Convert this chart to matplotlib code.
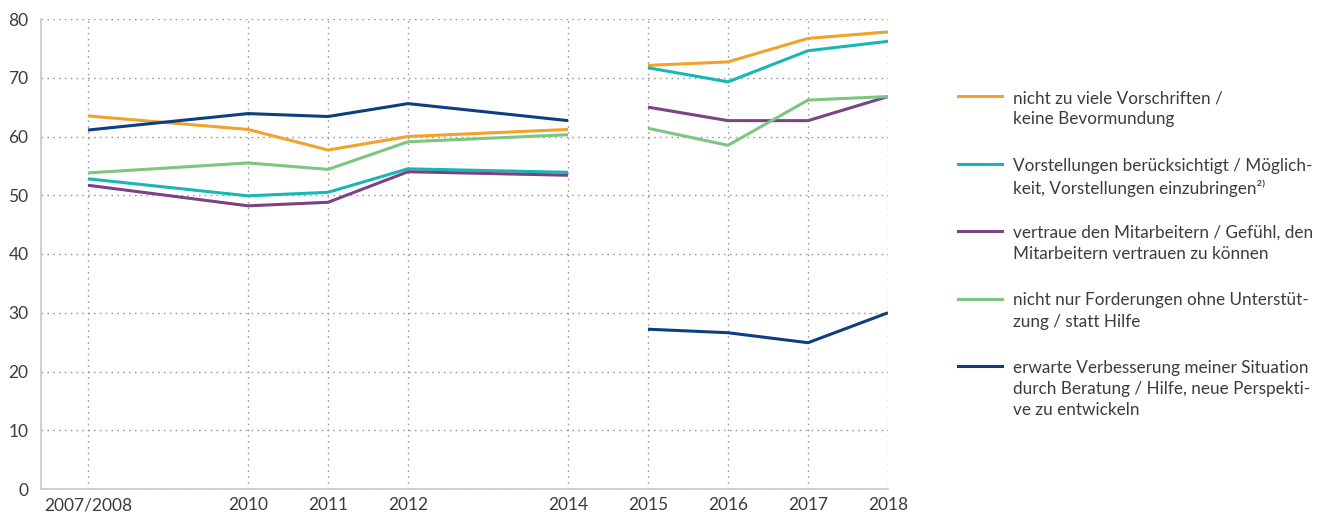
import matplotlib
matplotlib.use("Agg")
import matplotlib.pyplot as plt
from matplotlib.lines import Line2D
import numpy as np

plt.rcParams['font.family'] = ['Lato', 'DejaVu Sans']

years = [2008, 2010, 2011, 2012, 2014, 2015, 2016, 2017, 2018]
year_labels = ["2007/2008", "2010", "2011", "2012", "2014", "2015", "2016", "2017", "2018"]

vorschriften = [63.5, 61.2, 57.7, 60.0, 61.2, 72.1, 72.7, 76.7, 77.8]
vorstellungen = [52.8, 49.9, 50.5, 54.5, 53.9, 71.7, 69.3, 74.6, 76.2]
vertrauen = [51.7, 48.2, 48.8, 54.0, 53.4, 65.0, 62.7, 62.7, 66.8]
forderungen = [53.8, 55.5, 54.4, 59.1, 60.3, 61.4, 58.5, 66.2, 66.8]
verbesserung = [61.1, 63.9, 63.4, 65.6, 62.7, 27.2, 26.6, 24.9, 30.0]

series = [
    ("nicht zu viele Vorschriften /\nkeine Bevormundung", vorschriften, "#F0A22B"),
    ("Vorstellungen berücksichtigt / Möglich-\nkeit, Vorstellungen einzubringen²⁾", vorstellungen, "#17B7B3"),
    ("vertraue den Mitarbeitern / Gefühl, den\nMitarbeitern vertrauen zu können", vertrauen, "#7B4383"),
    ("nicht nur Forderungen ohne Unterstüt-\nzung / statt Hilfe", forderungen, "#7DC581"),
    ("erwarte Verbesserung meiner Situation\ndurch Beratung / Hilfe, neue Perspekti-\nve zu entwickeln", verbesserung, "#0C3F80"),
]

W, H = 1318, 515
fig = plt.figure(figsize=(W / 100, H / 100), dpi=100)
ax = fig.add_axes([41 / W, 1 - 489 / H, (888 - 41) / W, (489 - 19) / H])

break_idx = 5
for label, vals, color in series:
    ax.plot(years[:break_idx], vals[:break_idx], color=color, lw=2.2, solid_capstyle='butt')
    ax.plot(years[break_idx:], vals[break_idx:], color=color, lw=2.2, solid_capstyle='butt')

ax.set_xlim(2008 - 47 / 80, 2018)
ax.set_ylim(0, 80)
ax.set_xticks(years)
ax.set_xticklabels(year_labels)
ax.set_yticks(range(0, 81, 10))
ax.grid(True, color="#9a9a9a", linestyle=(0, (1.2, 3)), linewidth=1.0)
ax.set_axisbelow(True)
for s in ["top", "right"]:
    ax.spines[s].set_visible(False)
for s in ["left", "bottom"]:
    ax.spines[s].set_color("#c8c8c8")
    ax.spines[s].set_linewidth(1.2)
ax.tick_params(axis='both', length=0, labelsize=12.5, colors="#3c3c3c")
ax.tick_params(axis='y', pad=9)
ax.tick_params(axis='x', pad=6)

# legend drawn manually
y0 = 96
step = 67.5
for i, (label, vals, color) in enumerate(series):
    y = y0 + i * step
    fig.add_artist(Line2D([958 / W, 1002 / W], [1 - y / H, 1 - y / H], color=color, lw=2.2))
    fig.text(1013 / W, 1 - (y - 6) / H, label, ha='left', va='top', fontsize=12.3,
             color="#3c3c3c", linespacing=1.4)

fig.savefig("out.png", dpi=100)
